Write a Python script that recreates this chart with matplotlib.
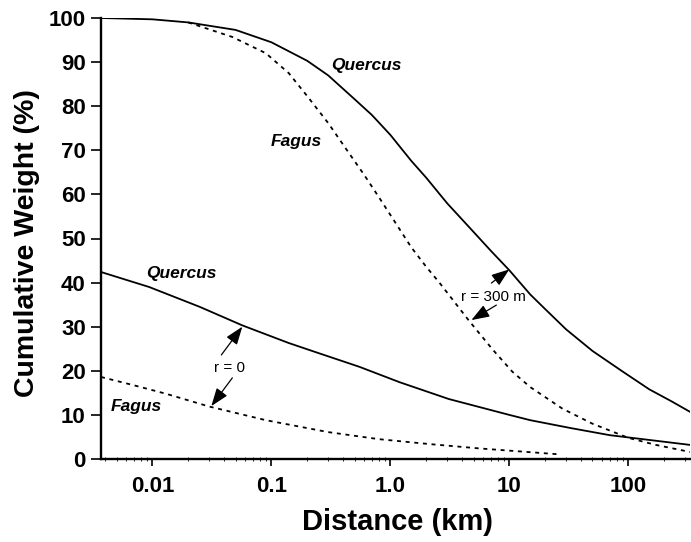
import matplotlib
matplotlib.use("Agg")
import matplotlib.pyplot as plt
from matplotlib.ticker import FixedLocator, NullFormatter, LogLocator

plt.rcParams['font.family'] = ['Liberation Sans', 'DejaVu Sans']

# ---- data ----
quercus_r300_x = [0.0037, 0.01, 0.02, 0.05, 0.1, 0.2, 0.3, 0.5, 0.7, 1.0, 1.5, 2.0, 3.0,
                  5.0, 7.0, 10, 15, 20, 30, 50, 90, 150, 230, 330]
quercus_r300_y = [100, 99.7, 99.0, 97.3, 94.5, 90.3, 87.0, 81.6, 78.0, 73.5, 67.6, 63.8, 58.0,
                  51.5, 47.2, 42.8, 37.3, 34.0, 29.4, 24.5, 19.8, 15.8, 13.1, 10.7]

fagus_r300_x = [0.02, 0.047, 0.09, 0.14, 0.2, 0.3, 0.43, 0.6, 0.8, 1.12, 1.5, 2.0, 2.6,
                4.6, 7.2, 10.6, 15, 28, 50, 100, 170, 330]
fagus_r300_y = [99.0, 95.7, 92.0, 87.5, 82.3, 76.2, 70.1, 64.5, 59.4, 53.3, 48.0, 43.6, 39.9,
                31.3, 24.9, 19.8, 16.3, 11.4, 8.0, 4.8, 3.2, 1.6]

quercus_r0_x = [0.0037, 0.0094, 0.025, 0.057, 0.14, 0.25, 0.55, 1.2, 3.1, 10, 15, 33, 70, 330]
quercus_r0_y = [42.4, 39.0, 34.5, 30.3, 26.3, 24.0, 20.9, 17.4, 13.6, 10.0, 8.8, 7.0, 5.4, 3.2]

fagus_r0_x = [0.0037, 0.0068, 0.013, 0.03, 0.09, 0.3, 0.8, 2.1, 5.6, 25]
fagus_r0_y = [18.6, 16.8, 14.8, 11.9, 8.8, 6.1, 4.5, 3.4, 2.4, 1.1]

xtick_vals = [0.01, 0.1, 1, 10, 100]
xtick_labels = ['0.01', '0.1', '1.0', '10', '100']
ytick_vals = [0, 10, 20, 30, 40, 50, 60, 70, 80, 90, 100]

# ---- figure ----
W, H = 691, 542
fig = plt.figure(figsize=(W / 100, H / 100), dpi=100)
L, R, T, B = 101, 690, 18, 459
ax = fig.add_axes([L / W, 1 - B / H, (R - L) / W, (B - T) / H])

lw = 1.3
dash = (0, (2.2, 2.6))
ax.plot(quercus_r300_x, quercus_r300_y, color='black', lw=lw)
ax.plot(fagus_r300_x, fagus_r300_y, color='black', lw=lw, linestyle=dash)
ax.plot(quercus_r0_x, quercus_r0_y, color='black', lw=lw)
ax.plot(fagus_r0_x, fagus_r0_y, color='black', lw=lw, linestyle=dash)

ax.set_xscale('log')
ax.set_xlim(0.0037, 330)
ax.set_ylim(0, 100)

ax.xaxis.set_major_locator(FixedLocator(xtick_vals))
ax.set_xticklabels(xtick_labels)
ax.xaxis.set_minor_locator(LogLocator(base=10, subs=range(2, 10)))
ax.xaxis.set_minor_formatter(NullFormatter())
ax.set_yticks(ytick_vals)

for s in ['top', 'right']:
    ax.spines[s].set_visible(False)
for s in ['left', 'bottom']:
    ax.spines[s].set_linewidth(1.7)

ax.tick_params(axis='x', which='major', direction='out', length=5, width=1.2, pad=7,
               labelsize=16)
ax.tick_params(axis='x', which='minor', direction='inout', length=2.5, width=0.6)
ax.tick_params(axis='y', which='major', direction='out', length=7, width=1.2, pad=4,
               labelsize=16)
for lab in ax.get_xticklabels() + ax.get_yticklabels():
    lab.set_fontweight('bold')

fig.text(27 / W, 1 - 243 / H, 'Cumulative Weight (%)', rotation=90, ha='center', va='center',
         fontsize=20.5, fontweight='bold')
fig.text(398 / W, 1 - 522 / H, 'Distance (km)', ha='center', va='center',
         fontsize=21, fontweight='bold')

# species labels
lab_kw = dict(fontsize=12.5, fontweight='bold', style='italic', ha='center', va='center')
ax.text(0.628, 89.3, 'Quercus', **lab_kw)
ax.text(0.162, 71.9, 'Fagus', **lab_kw)
ax.text(0.0175, 42.0, 'Quercus', **lab_kw)
ax.text(0.00734, 11.8, 'Fagus', **lab_kw)

# r annotations
arr = dict(arrowstyle='-|>,head_length=1.1,head_width=0.4', color='black', lw=0.9,
           shrinkA=0, shrinkB=0)
ax.text(0.0444, 20.6, 'r = 0', fontsize=11, ha='center', va='center')
ax.annotate('', xy=(0.057, 30.0), xytext=(0.038, 23.6), arrowprops=arr)
ax.annotate('', xy=(0.0313, 12.0), xytext=(0.047, 18.4), arrowprops=arr)

ax.text(7.4, 36.7, 'r = 300 m', fontsize=11, ha='center', va='center')
ax.annotate('', xy=(10, 43.0), xytext=(7.07, 39.9), arrowprops=arr)
ax.annotate('', xy=(4.8, 31.5), xytext=(7.78, 34.9), arrowprops=arr)

fig.savefig('out.png', dpi=100)
